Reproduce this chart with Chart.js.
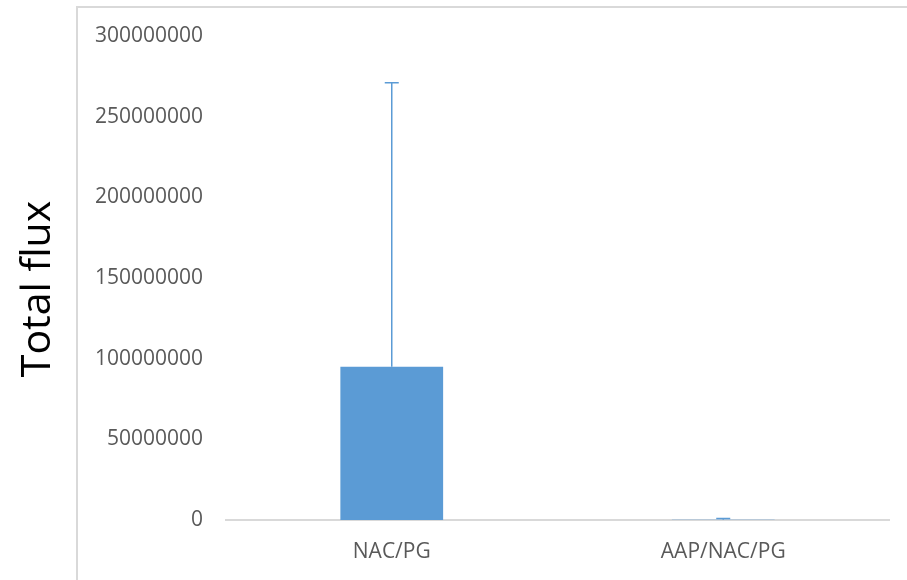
<!DOCTYPE html>
<html>
<head>
<meta charset="utf-8">
<script src="https://cdn.jsdelivr.net/npm/chart.js@4/dist/chart.umd.min.js"></script>
<style>
  html, body { margin: 0; padding: 0; background: #fff; }
  #wrap { width: 907px; height: 580px; position: relative; }
</style>
</head>
<body>
<div id="wrap"><canvas id="fluxChart"></canvas></div>
<script>
const groups = ['NAC/PG', 'AAP/NAC/PG'];
const totalFlux = [95000000, 200000];
const fluxError = [176000000, 800000];
const yTicks = [0, 50000000, 100000000, 150000000, 200000000, 250000000, 300000000];
const yTitle = 'Total flux';

const barColor = '#5b9bd5';
const lineGray = '#d9d9d9';

// outer frame of the original picture (left and top edges only)
const framePlugin = {
  id: 'frame',
  beforeDraw(chart) {
    const c = chart.ctx;
    c.save();
    c.strokeStyle = lineGray;
    c.lineWidth = 2;
    c.beginPath();
    c.moveTo(77, chart.height);
    c.lineTo(77, 7);
    c.lineTo(chart.width, 7);
    c.stroke();
    c.restore();
  }
};

// y title sits a bit lower than the plot middle in the original
const titlePlugin = {
  id: 'yTitle',
  afterDraw(chart) {
    const c = chart.ctx;
    c.save();
    c.translate(38, 289);
    c.rotate(-Math.PI / 2);
    c.fillStyle = '#000';
    c.font = '41px "Open Sans"';
    c.textAlign = 'center';
    c.textBaseline = 'middle';
    c.fillText(yTitle, 0, 0);
    c.restore();
  }
};

// plus-only error bars on top of each bar
const errorBars = {
  id: 'errorBars',
  afterDatasetsDraw(chart) {
    const c = chart.ctx;
    const y = chart.scales.y;
    const meta = chart.getDatasetMeta(0);
    c.save();
    c.strokeStyle = barColor;
    c.lineWidth = 1.5;
    meta.data.forEach((bar, i) => {
      const top = y.getPixelForValue(totalFlux[i] + fluxError[i]);
      const base = y.getPixelForValue(totalFlux[i]);
      c.beginPath();
      c.moveTo(bar.x, base);
      c.lineTo(bar.x, top);
      c.moveTo(bar.x - 7, top);
      c.lineTo(bar.x + 7, top);
      c.stroke();
    });
    c.restore();
  }
};

const ctx = document.getElementById('fluxChart').getContext('2d');
new Chart(ctx, {
  type: 'bar',
  data: {
    labels: groups,
    datasets: [{
      label: yTitle,
      data: totalFlux,
      backgroundColor: barColor,
      borderWidth: 0,
      categoryPercentage: 1,
      barPercentage: 0.31
    }]
  },
  options: {
    responsive: true,
    maintainAspectRatio: false,
    animation: false,
    layout: { padding: { left: 14, right: 18, top: 36, bottom: 0 } },
    plugins: {
      legend: { display: false },
      tooltip: { enabled: false }
    },
    scales: {
      x: {
        grid: { display: false, drawTicks: false },
        border: { display: true, color: lineGray, width: 2 },
        ticks: { color: '#595959', font: { family: 'Open Sans', size: 21 }, padding: 19 },
        afterFit(scale) { scale.height = 60; }
      },
      y: {
        min: 0,
        max: 300000000,
        grid: { display: false, drawTicks: false },
        border: { display: false },
        afterBuildTicks(scale) { scale.ticks = yTicks.map(v => ({ value: v })); },
        afterFit(scale) { scale.width = 212; },
        ticks: {
          color: '#595959',
          font: { family: 'Open Sans', size: 21 },
          padding: 23,
          callback: v => String(v)
        }
      }
    }
  },
  plugins: [framePlugin, errorBars, titlePlugin]
});
</script>
</body>
</html>
